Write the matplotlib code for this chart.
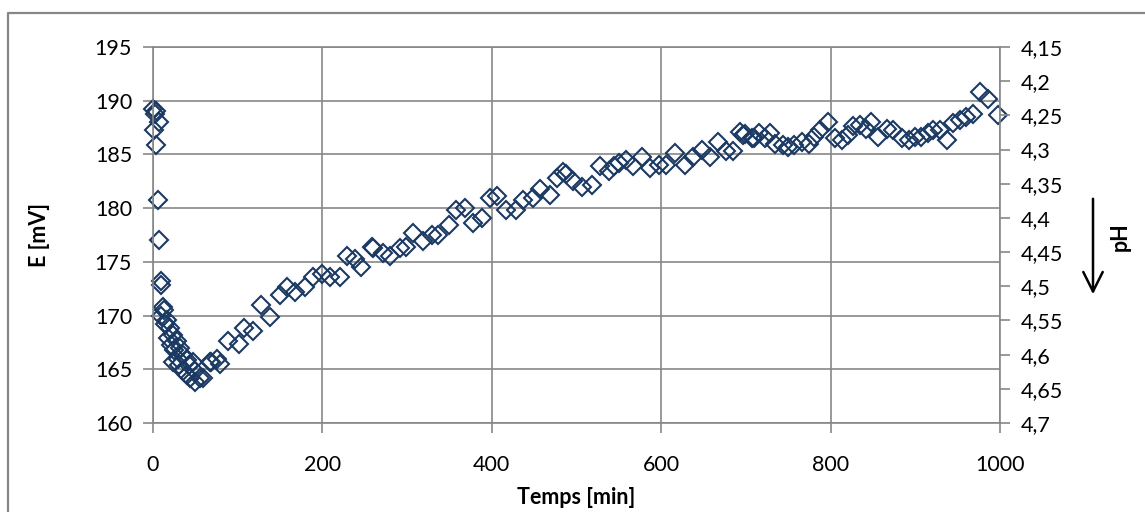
import matplotlib.pyplot as plt
import matplotlib.ticker as mticker
from matplotlib.lines import Line2D
from matplotlib.patches import FancyArrowPatch

# temps [min] et potentiel E [mV]
temps = [0, 4, 2.5, 7, 1, 3.5, 6, 7.5, 9, 10, 11.5, 13, 9, 16, 14, 20, 24, 18, 28, 21,
         32, 25, 36, 29, 40, 24, 31, 43, 47.5, 36, 50, 44, 55, 40, 50, 59,
         67, 75, 69, 79, 89, 101, 107, 118, 128, 138, 150, 158, 168, 179, 189, 199,
         209, 221, 229, 239, 246, 258, 260, 272, 280, 292, 299, 307, 319, 329, 337,
         349, 358, 368, 378, 388, 398, 406, 417, 429, 437, 449, 457, 469, 477, 488,
         484, 496, 506, 518, 528, 538, 544, 550, 559, 567, 577, 587, 597, 606, 616,
         628, 638, 648, 658, 667, 677, 685, 697, 709, 693, 699, 707, 715, 723, 728,
         734, 744, 750, 757, 766, 774, 780, 787, 797, 805, 813, 821, 827, 835, 842,
         848, 856, 866, 874, 884, 892, 900, 907, 915, 921, 929, 937, 945, 953, 960,
         968, 976, 986, 998]
E_mV = [189.2, 189.0, 188.8, 188.0, 187.3, 185.9, 180.8, 177.0, 173.2, 172.8, 170.8, 170.5,
        170.0, 169.6, 169.2, 168.8, 168.2, 167.9, 167.6, 167.3, 167.0, 166.8, 166.3, 166.0,
        165.9, 165.7, 165.4, 165.4, 165.7, 164.8, 164.8, 164.2, 164.2, 164.5, 163.8, 164.2,
        165.7, 166.0, 165.7, 165.5, 167.6, 167.4, 168.8, 168.6, 171.0, 169.9, 171.9, 172.7,
        172.2, 172.7, 173.6, 173.9, 173.6, 173.6, 175.5, 175.3, 174.5, 176.4, 176.3, 175.8,
        175.5, 176.3, 176.4, 177.7, 176.9, 177.5, 177.5, 178.4, 179.8, 180.0, 178.6, 179.1,
        180.9, 181.1, 179.8, 179.8, 180.8, 180.9, 181.8, 181.2, 182.8, 183.2, 183.4, 182.5,
        182.0, 182.2, 183.9, 183.5, 183.9, 184.2, 184.5, 183.9, 184.8, 183.7, 184.0, 184.0,
        185.1, 184.0, 184.8, 185.4, 184.8, 186.2, 185.3, 185.3, 186.8, 186.5, 187.1, 186.9,
        186.5, 187.0, 186.5, 187.0, 186.0, 185.9, 185.7, 185.9, 186.2, 186.0, 186.6, 187.3,
        188.0, 186.5, 186.3, 186.8, 187.6, 187.7, 187.4, 188.0, 186.6, 187.4, 187.3, 186.5,
        186.3, 186.6, 186.6, 187.0, 187.3, 187.3, 186.3, 187.9, 188.2, 188.5, 188.8, 190.8,
        190.2, 188.7]

E_ticks = [160, 165, 170, 175, 180, 185, 190, 195]
pH_ticks = [4.15, 4.2, 4.25, 4.3, 4.35, 4.4, 4.45, 4.5, 4.55, 4.6, 4.65, 4.7]
t_ticks = [0, 200, 400, 600, 800, 1000]

plt.rcParams['font.family'] = ['Lato', 'DejaVu Sans']
grey = '#878787'
navy = '#1B3A63'

fig = plt.figure(figsize=(11.45, 5.12), dpi=100)
ax = fig.add_axes([153 / 1145, 1 - 423 / 512, 847 / 1145, 376 / 512])

ax.plot(temps, E_mV, linestyle='none', marker='D', ms=9.4, mfc='none',
        mec=navy, mew=1.5, clip_on=False)

ax.set_xlim(0, 1000)
ax.set_ylim(160, 195)
ax.set_xticks(t_ticks)
ax.set_yticks(E_ticks)
ax.grid(True, color=grey, linewidth=1.2)
ax.set_axisbelow(True)
for s in ax.spines.values():
    s.set_color(grey)
    s.set_linewidth(1.2)
ax.tick_params(axis='both', colors=grey, length=7, width=1.2, labelsize=15.5,
               labelcolor='black')
ax.tick_params(axis='x', pad=16)
ax.tick_params(axis='y', pad=8)
ax.set_xlabel('Temps [min]', fontsize=15.5, fontweight='bold', labelpad=9)
ax.set_ylabel('E [mV]', fontsize=15.5, fontweight='bold', labelpad=32)

ax2 = ax.twinx()
ax2.set_ylim(4.7, 4.15)
ax2.set_yticks(pH_ticks)
ax2.yaxis.set_major_formatter(mticker.FuncFormatter(
    lambda v, p: ('%.2f' % v).rstrip('0').replace('.', ',')))
ax2.tick_params(axis='y', colors=grey, length=7, width=1.2, labelsize=15.5,
                labelcolor='black', pad=8)
for s in ax2.spines.values():
    s.set_visible(False)

fig.text(1120 / 1145, 1 - 237 / 512, 'pH', rotation=90, fontsize=15.5,
         fontweight='bold', ha='center', va='center')
fig.add_artist(FancyArrowPatch(
    (1093 / 1145, 1 - 196 / 512), (1093 / 1145, 1 - 297 / 512),
    transform=fig.transFigure, arrowstyle='->,head_length=14,head_width=7',
    color='black', lw=1.8, mutation_scale=1))

# cadre extérieur
fig.add_artist(Line2D([8 / 1145, 8 / 1145, 1.0], [0.0, 1 - 13 / 512, 1 - 13 / 512],
                      transform=fig.transFigure, color=grey, lw=1.6))

fig.savefig('out.png', dpi=100)
